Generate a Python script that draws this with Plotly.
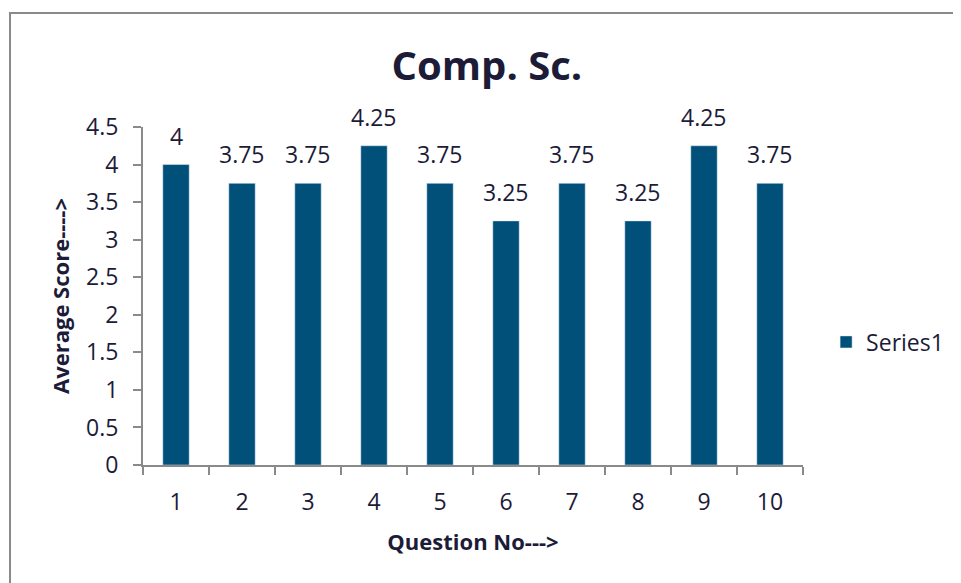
import plotly.graph_objects as go

# data
questions = ["1", "2", "3", "4", "5", "6", "7", "8", "9", "10"]
avg_score = [4, 3.75, 3.75, 4.25, 3.75, 3.25, 3.75, 3.25, 4.25, 3.75]
y_ticks = [0, 0.5, 1, 1.5, 2, 2.5, 3, 3.5, 4, 4.5]
y_tick_text = ["0", "0.5", "1", "1.5", "2", "2.5", "3", "3.5", "4", "4.5"]

bar_color = "#01507a"
text_color = "#1c1b38"
axis_color = "#8a8a8a"
font_family = "Open Sans"

fig = go.Figure()
fig.add_trace(go.Bar(
    x=questions,
    y=avg_score,
    name="Series1",
    marker_color=bar_color,
    width=0.4,
))

# value labels above the bars (x given as category index)
for i, v in enumerate(avg_score):
    fig.add_annotation(
        x=i, y=v, text=f"{v:g}", showarrow=False,
        yanchor="bottom", yshift=11,
        font=dict(size=23, color=text_color, family=font_family),
    )

fig.update_layout(
    width=961,
    height=583,
    margin=dict(l=135, r=166, t=119, b=126),
    paper_bgcolor="white",
    plot_bgcolor="white",
    font=dict(family=font_family, color=text_color, size=23),
    title=dict(
        text="<b>Comp. Sc.</b>",
        x=0.521, xref="paper", xanchor="center",
        y=0.9, yref="container", yanchor="middle",
        font=dict(size=40, color=text_color, family=font_family),
    ),
    showlegend=True,
    legend=dict(
        x=1.035, y=0.364, xanchor="left", yanchor="middle",
        font=dict(size=23, color=text_color),
        bgcolor="rgba(0,0,0,0)",
    ),
    bargap=0.6,
)

fig.update_xaxes(
    type="category",
    range=[-0.5, len(questions) - 0.5],
    showline=True, linecolor=axis_color, linewidth=2,
    ticks="outside", tickson="boundaries", ticklen=8, tickwidth=2,
    tickcolor=axis_color,
    showgrid=False, zeroline=False,
    tickfont=dict(size=23, color=text_color),
    ticklabelstandoff=15,
    title=dict(text="<b>Question No---></b>", standoff=19,
               font=dict(size=22, color=text_color)),
)

fig.update_yaxes(
    range=[0, 4.5],
    tickvals=y_ticks, ticktext=y_tick_text,
    showline=True, linecolor=axis_color, linewidth=2,
    ticks="outside", ticklen=8, tickwidth=2, tickcolor=axis_color,
    showgrid=False, zeroline=False,
    tickfont=dict(size=23, color=text_color),
    ticklabelstandoff=10,
    title=dict(text="<b>Average Score----></b>", standoff=10,
               font=dict(size=22, color=text_color)),
)

# outer chart border (only left and top edges fall inside the picture)
fig.add_shape(
    type="rect", xref="paper", yref="paper",
    x0=-0.2015, x1=1.5, y0=-0.6, y1=1.3373,
    line=dict(color=axis_color, width=2),
    fillcolor="rgba(0,0,0,0)", layer="below",
)

fig.write_html("out.html")
